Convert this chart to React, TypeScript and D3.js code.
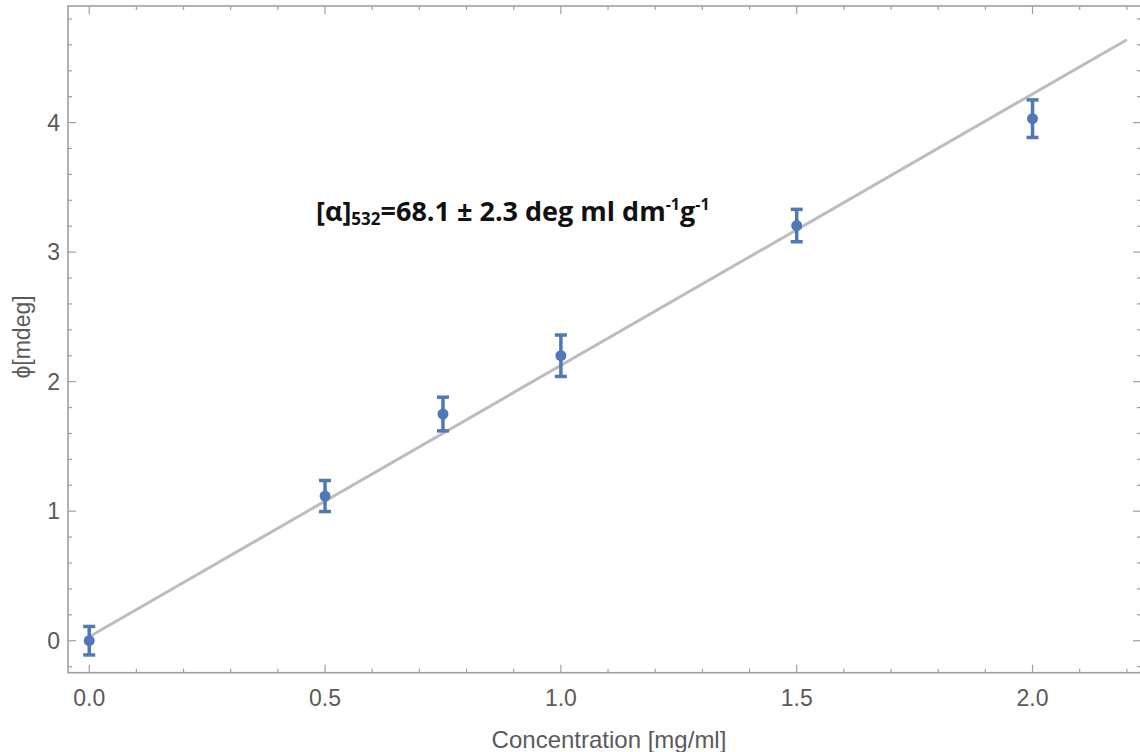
import React from "react";
import * as d3 from "d3";

const concentrations = [0.0, 0.5, 0.75, 1.0, 1.5, 2.0];
const phiValues = [0.0, 1.117, 1.75, 2.2, 3.205, 4.03];
const phiErrors = [0.11, 0.12, 0.13, 0.16, 0.125, 0.145];
const fitX = [0.0, 2.2];
const fitY = [0.03, 4.64];
const xTickLabels = ["0.0", "0.5", "1.0", "1.5", "2.0"];
const yTickLabels = ["0", "1", "2", "3", "4"];

const W = 1140;
const H = 752;
const L = 68, R = 1141, T = 6, B = 672.7;

export default function App() {
  const x = d3.scaleLinear().domain([-0.045, 2.23]).range([L, R]);
  const y = d3.scaleLinear().domain([-0.247, 4.9]).range([B, T]);
  const blue = "#5077b6";
  const frame = "#a0a0a0";
  const labelColor = "#5a5a5a";
  const font = "'Liberation Sans', Arial, sans-serif";

  const xMinor = d3.range(0, 23).map((i) => i / 10).filter((v) => v <= 2.23);
  const yMinor = d3.range(-1, 25).map((i) => i / 5).filter((v) => v >= -0.247 && v <= 4.9);
  const isMajorX = (v: number) => Math.abs(v * 2 - Math.round(v * 2)) < 1e-6;
  const isMajorY = (v: number) => Math.abs(v - Math.round(v)) < 1e-6;

  const line = d3.line<number>().x((_, i) => x(fitX[i])).y((d) => y(d));

  return (
    <svg width={W} height={H} style={{ position: "absolute", left: 0, top: 0, background: "#fff" }}>
      <rect x={0} y={0} width={W} height={H} fill="#fff" />
      {/* frame */}
      <rect x={L} y={T} width={R - L} height={B - T} fill="none" stroke={frame} strokeWidth={1.6} />
      {/* x ticks */}
      {xMinor.map((v, i) => {
        const len = isMajorX(v) ? 8 : 4;
        return (
          <g key={"xt" + i} stroke={frame} strokeWidth={1.2}>
            <line x1={x(v)} x2={x(v)} y1={B} y2={B - len} />
            <line x1={x(v)} x2={x(v)} y1={T} y2={T + len} />
          </g>
        );
      })}
      {/* y ticks */}
      {yMinor.map((v, i) => {
        const len = isMajorY(v) ? 8 : 4;
        return (
          <g key={"yt" + i} stroke={frame} strokeWidth={1.2}>
            <line x1={L} x2={L + len} y1={y(v)} y2={y(v)} />
            <line x1={R} x2={R - len} y1={y(v)} y2={y(v)} />
          </g>
        );
      })}
      {/* x tick labels */}
      {xTickLabels.map((t) => (
        <text key={"xl" + t} x={x(+t)} y={B + 33} textAnchor="middle" fontFamily={font} fontSize={23} fill={labelColor}>
          {t}
        </text>
      ))}
      {/* y tick labels */}
      {yTickLabels.map((t) => (
        <text key={"yl" + t} x={L - 8} y={y(+t) + 8} textAnchor="end" fontFamily={font} fontSize={23} fill={labelColor}>
          {t}
        </text>
      ))}
      {/* axis labels */}
      <text x={609} y={748} textAnchor="middle" fontFamily={font} fontSize={24} fill={labelColor}>
        Concentration [mg/ml]
      </text>
      <text transform={`translate(30, 337) rotate(-90)`} textAnchor="middle" fontFamily={font} fontSize={23} fill={labelColor}>
        ϕ[mdeg]
      </text>
      {/* fit line */}
      <path d={line(fitY) || ""} fill="none" stroke="#bdbdbd" strokeWidth={3} />
      {/* error bars and points */}
      {concentrations.map((c, i) => {
        const cx = x(c);
        const y1 = y(phiValues[i] + phiErrors[i]);
        const y2 = y(phiValues[i] - phiErrors[i]);
        return (
          <g key={"p" + i}>
            <line x1={cx} x2={cx} y1={y1} y2={y2} stroke={blue} strokeWidth={3.5} />
            <line x1={cx - 6} x2={cx + 6} y1={y1} y2={y1} stroke={blue} strokeWidth={3.5} />
            <line x1={cx - 6} x2={cx + 6} y1={y2} y2={y2} stroke={blue} strokeWidth={3.5} />
            <circle cx={cx} cy={y(phiValues[i])} r={5.5} fill={blue} />
          </g>
        );
      })}
      {/* annotation */}
      <text x={316} y={221} fontFamily="'Open Sans', 'Noto Sans', sans-serif" fontWeight="bold" fontSize={27} fill="#111">
        <tspan>[α]</tspan>
        <tspan fontSize={17} dy={4}>532</tspan>
        <tspan dy={-4}>=68.1 ± 2.3 deg ml dm</tspan>
        <tspan fontSize={16} dy={-11}>-1</tspan>
        <tspan dy={11}>g</tspan>
        <tspan fontSize={16} dy={-11}>-1</tspan>
      </text>
    </svg>
  );
}
